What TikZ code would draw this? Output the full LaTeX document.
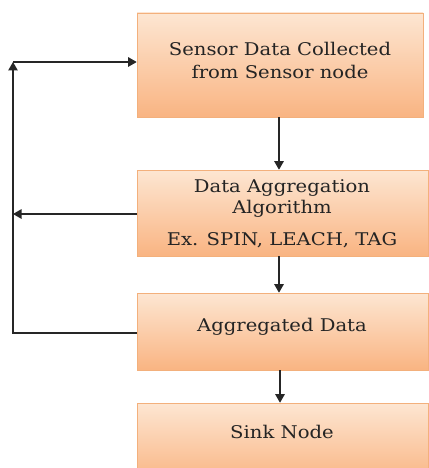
\documentclass[tikz,border=0pt]{standalone}
\usepackage{fontspec}
\setmainfont{DejaVu Serif}[FakeStretch=1.12]
\usetikzlibrary{arrows.meta,shadows}
\definecolor{boxtop}{HTML}{FDE6D2}
\definecolor{boxbot}{HTML}{F9B482}
\definecolor{boxline}{HTML}{F3B07C}
\definecolor{txt}{HTML}{242424}
\tikzset{
  flowbox/.style={draw=boxline, line width=0.6pt, top color=boxtop, bottom color=boxbot,
    drop shadow={shadow xshift=1.4pt, shadow yshift=-1.4pt, fill=black!40, opacity=0.6},
    inner sep=0pt},
  lbl/.style={text=txt, font=\fontsize{17.5}{21}\selectfont, inner sep=0pt},
  conn/.style={line width=1.1pt, draw=black!85},
  tip/.style={-{Triangle[length=8.5pt,width=9.5pt]}}
}
\begin{document}
\begin{tikzpicture}[x=1pt,y=-1pt]
\useasboundingbox (0,0) rectangle (428,468);
\node[flowbox, minimum width=286pt, minimum height=104pt] (b1) at (280,65) {};
\node[flowbox, minimum width=291pt, minimum height=86pt] (b2) at (282.5,213) {};
\node[flowbox, minimum width=291pt, minimum height=77pt] (b3) at (282.5,331.5) {};
\node[flowbox, minimum width=291pt, minimum height=80pt] (b4) at (282.5,443) {};
\node[lbl, align=center, font=\fontsize{17.5}{23}\selectfont] (t1) at (280,60) {Sensor Data Collected\\from Sensor node};
\node[lbl, align=center] (t2a) at (282,198.5) {Data Aggregation\\Algorithm};
\node[lbl] (t2b) at (282,240) {Ex. SPIN, LEACH, TAG};
\node[lbl] (t3) at (282,327) {Aggregated Data};
\node[lbl] (t4) at (282,432) {Sink Node};
\coordinate (c1) at (13,62);
\coordinate (c2) at (13,214);
\coordinate (c3) at (13,333);
\draw[conn, tip] (b1.south -| 279,0) -- (b2.north -| 279,0);
\draw[conn, tip] (b2.south -| 279,0) -- (b3.north -| 279,0);
\draw[conn, tip] (b3.south -| 280,0) -- (b4.north -| 280,0);
\draw[conn, tip] (b3.west |- c3) -- (c3) -- (c1);
\draw[conn, tip] (c1) -- (b1.west |- c1);
\draw[conn, tip] (b2.west |- c2) -- (c2);
\end{tikzpicture}
\end{document}
